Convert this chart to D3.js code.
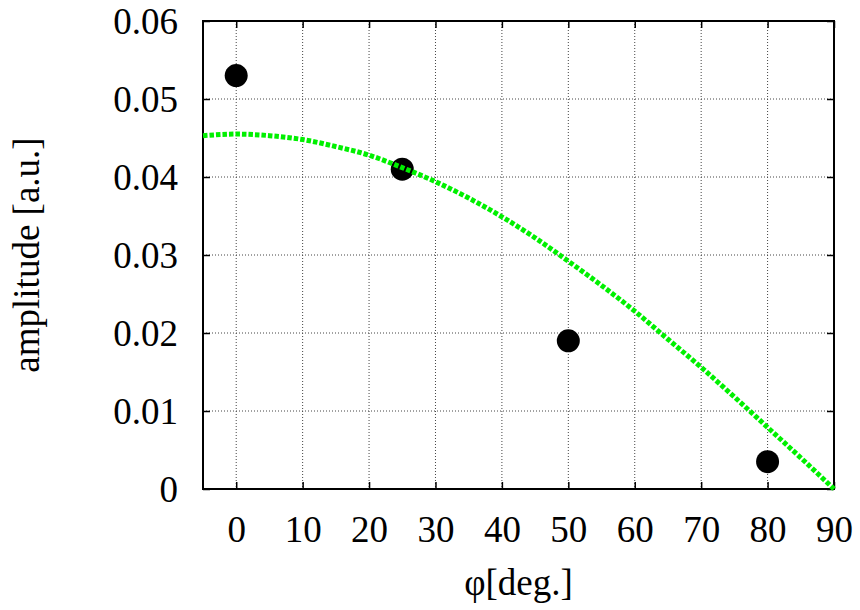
<!DOCTYPE html>
<html><head><meta charset="utf-8">
<script src="https://cdn.jsdelivr.net/npm/d3@7"></script>
<style>body{margin:0;background:#fff}svg{display:block}text{font-family:"Liberation Serif","DejaVu Serif",serif;fill:#000}</style>
</head><body><svg id="c" width="860" height="610"></svg>
<script>
const xTicks = [0,10,20,30,40,50,60,70,80,90];
const yTicks = [0,0.01,0.02,0.03,0.04,0.05,0.06];
const yTickLabels = ["0","0.01","0.02","0.03","0.04","0.05","0.06"];
const pointPhi = [0,25,50,80];
const pointAmp = [0.053,0.041,0.019,0.0035];
const fitPhi = [-5,0,5,10,15,20,25,30,35,40,45,50,55,60,65,70,75,80,85,90];
const fitAmp = [0.0453,0.0455,0.0453,0.0448,0.0439,0.0428,0.0412,0.0394,0.0373,0.0349,0.0322,0.0292,0.0261,0.0228,0.0192,0.0156,0.0118,0.0079,0.0040,0.0];

const svg = d3.select("#c");
const L=203,R=834,T=21,B=489;
const x = d3.scaleLinear().domain([-5,90]).range([L,R]);
const y = d3.scaleLinear().domain([0,0.06]).range([B,T]);

const g = svg.append("g");
g.selectAll("line.gx").data(xTicks).join("line")
 .attr("x1",d=>x(d)).attr("x2",d=>x(d)).attr("y1",T).attr("y2",B)
 .attr("stroke","#444").attr("stroke-width",1).attr("stroke-dasharray","1,2");
g.selectAll("line.gy").data(yTicks.slice(1,-1)).join("line")
 .attr("y1",d=>y(d)).attr("y2",d=>y(d)).attr("x1",L).attr("x2",R)
 .attr("stroke","#444").attr("stroke-width",1).attr("stroke-dasharray","1,2");

const ax = svg.append("g").attr("transform",`translate(0,${B})`)
 .call(d3.axisBottom(x).tickValues(xTicks).tickSize(-7).tickFormat(d3.format("d")));
const axT = svg.append("g").attr("transform",`translate(0,${T})`)
 .call(d3.axisTop(x).tickValues(xTicks).tickSize(-7).tickFormat(""));
const ay = svg.append("g").attr("transform",`translate(${L},0)`)
 .call(d3.axisLeft(y).tickValues(yTicks).tickSize(-7).tickPadding(25).tickFormat((d,i)=>yTickLabels[i]));
const ayR = svg.append("g").attr("transform",`translate(${R},0)`)
 .call(d3.axisRight(y).tickValues(yTicks).tickSize(-7).tickFormat(""));
[ax,axT,ay,ayR].forEach(a=>{a.select(".domain").remove();a.selectAll(".tick line").attr("stroke","#000").attr("stroke-width",1.5);
 a.selectAll("text").attr("font-size",37).attr("font-family","Liberation Serif").attr("fill","#000");});
ax.selectAll("text").attr("dy","0.71em").attr("y",27);
ay.selectAll("text").attr("dy","0.34em");

svg.append("rect").attr("x",L).attr("y",T).attr("width",R-L).attr("height",B-T)
 .attr("fill","none").attr("stroke","#000").attr("stroke-width",2);

const line = d3.line().x((d,i)=>x(fitPhi[i])).y(d=>y(d)).curve(d3.curveMonotoneX);

svg.selectAll("circle.p").data(pointAmp).join("circle")
 .attr("cx",(d,i)=>x(pointPhi[i])).attr("cy",d=>y(d)).attr("r",11.5).attr("fill","#000");
svg.append("path").datum(fitAmp).attr("d",line).attr("fill","none")
 .attr("stroke","#00f000").attr("stroke-width",5).attr("stroke-dasharray","4.5,2");

svg.append("text").attr("x",(L+R)/2).attr("y",595).attr("text-anchor","middle").attr("font-size",37).text("φ[deg.]");
svg.append("text").attr("transform",`translate(39,${(T+B)/2}) rotate(-90)`).attr("text-anchor","middle").attr("font-size",37).text("amplitude [a.u.]");
</script></body></html>
